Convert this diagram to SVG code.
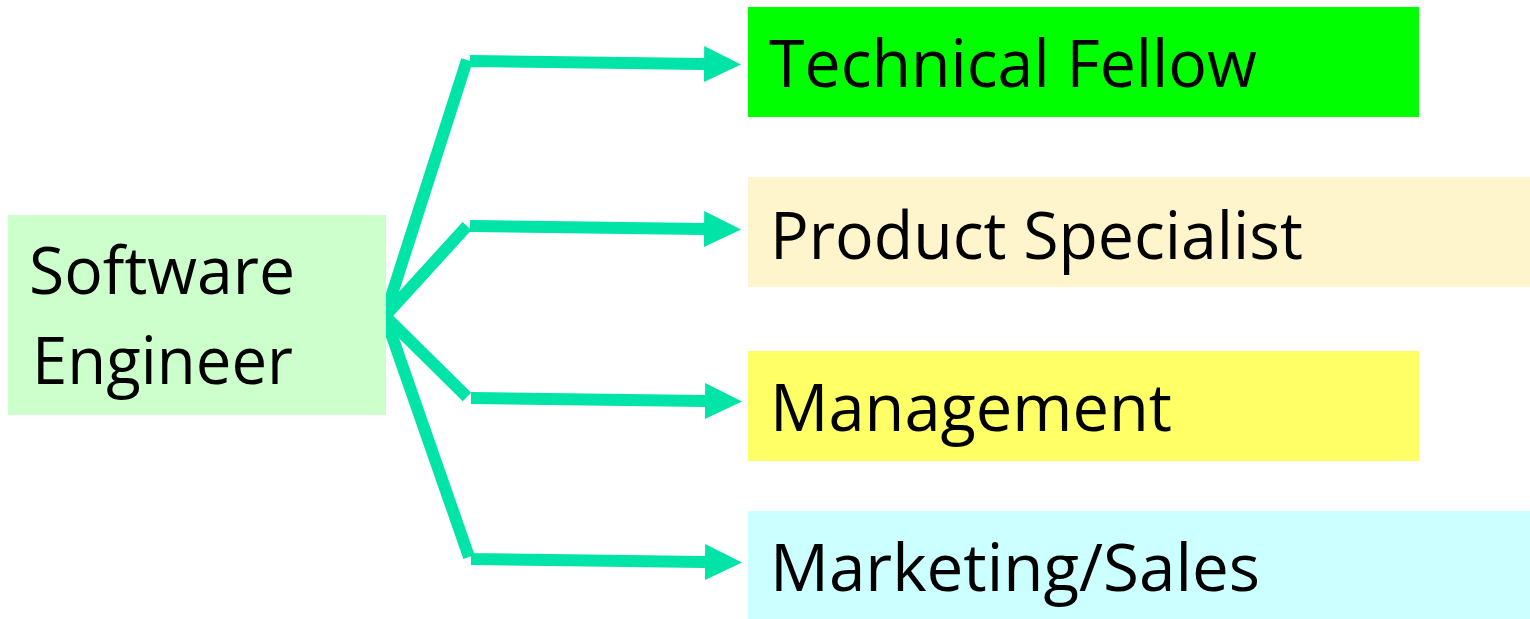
<svg xmlns="http://www.w3.org/2000/svg" width="1530" height="619" viewBox="0 0 1530 619">
<style>
.lbl{font-family:"Open Sans","Noto Sans","Liberation Sans",sans-serif;font-size:66px;fill:#000}
.conn{fill:none;stroke:#00E4A8;stroke-width:12;stroke-linecap:butt;stroke-linejoin:miter}
</style>
<defs>
<marker id="ah" markerUnits="userSpaceOnUse" markerWidth="40" markerHeight="40" refX="0" refY="18" orient="auto">
<path d="M0,0 L37,18 L0,36 Z" fill="#00E4A8"/>
</marker>
</defs>
<rect width="1530" height="619" fill="#fff"/>
<g id="connectors">
<path class="conn" d="M385,316 L467,60 M470,61 L704,64" marker-end="url(#ah)"/>
<path class="conn" d="M385,316 L467,226 M470,226 L704,229" marker-end="url(#ah)"/>
<path class="conn" d="M385,316 L467,397 M471,398 L705,401" marker-end="url(#ah)"/>
<path class="conn" d="M385,316 L469,557 M471,559 L705,562" marker-end="url(#ah)"/>
</g>
<g id="software-engineer">
<rect x="8" y="215" width="378" height="200" fill="#CCFFCC"/>
<text class="lbl" x="29" y="294" textLength="266" lengthAdjust="spacingAndGlyphs">Software</text>
<text class="lbl" x="32" y="384" textLength="261" lengthAdjust="spacingAndGlyphs">Engineer</text>
</g>
<g id="technical-fellow">
<rect x="748" y="7" width="671" height="110" fill="#00FF00"/>
<text class="lbl" x="769" y="87" textLength="488" lengthAdjust="spacingAndGlyphs">Technical Fellow</text>
</g>
<g id="product-specialist">
<rect x="748" y="177" width="782" height="110" fill="#FFF5CC"/>
<text class="lbl" x="770" y="259" textLength="533" lengthAdjust="spacingAndGlyphs">Product Specialist</text>
</g>
<g id="management">
<rect x="748" y="351" width="671" height="110" fill="#FFFF66"/>
<text class="lbl" x="770" y="431" textLength="402" lengthAdjust="spacingAndGlyphs">Management</text>
</g>
<g id="marketing-sales">
<rect x="748" y="511" width="782" height="108" fill="#CCFFFF"/>
<text class="lbl" x="770" y="591" textLength="490" lengthAdjust="spacingAndGlyphs">Marketing/Sales</text>
</g>
</svg>
